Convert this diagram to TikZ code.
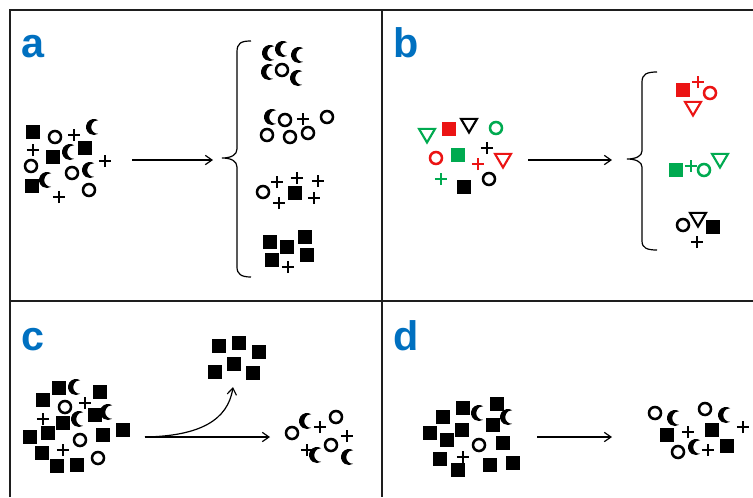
\documentclass[tikz,border=0pt]{standalone}
\usepackage{fontspec}
\setmainfont{Liberation Sans}
\usetikzlibrary{arrows.meta}
\definecolor{lblblue}{RGB}{0,112,192}
\definecolor{symred}{RGB}{235,20,20}
\definecolor{symgreen}{RGB}{0,170,80}
\definecolor{framec}{RGB}{30,30,30}
\tikzset{
  sq/.pic={\fill (-5pt,-5pt) rectangle (5pt,5pt);},
  ci/.pic={\draw[line width=1.9pt] (0,0) circle[radius=4.5pt];},
  pl/.pic={\draw[line width=2pt] (-4.6pt,0)--(4.6pt,0) (0,-4.6pt)--(0,4.6pt);},
  tri/.pic={\draw[line width=1.6pt,line join=miter] (-6pt,4.6pt)--(6pt,4.6pt)--(0,-5.6pt)--cycle;},
  cr/.pic={\fill[x=0.75pt,y=0.75pt] (58.2:8) arc[start angle=58.2,end angle=301.8,radius=8]
           arc[start angle=-88.1,end angle=-271.9,radius=6.8] -- cycle;},
  framel/.style={draw=framec,line width=1.1pt},
  conn/.style={draw=black,line width=0.9pt,-{Straight Barb[length=5pt,width=7pt,line width=0.9pt]}},
  bracel/.style={draw=black,line width=0.9pt},
  lbl/.style={font=\bfseries\fontsize{31}{31}\selectfont,text=lblblue,inner sep=0pt,anchor=base west}
}
\begin{document}
\begin{tikzpicture}[x=0.75pt,y=-0.75pt]
\useasboundingbox (0,0) rectangle (753,497);
% frame
\draw[framel] (10,497) -- (10,10) -- (753,10);
\draw[framel] (382,10) -- (382,497);
\draw[framel] (10,301) -- (753,301);
% labels
\node[lbl] (la) at (21,57) {a};
\node[lbl] (lb) at (393,57) {b};
\node[lbl] (lc) at (21,350) {c};
\node[lbl] (ld) at (393,350) {d};

% ---------- panel a input
\pic at (33,132) {sq}; \pic at (55,137) {ci}; \pic at (74,135) {pl}; \pic at (94,127) {cr};
\pic at (33,150) {pl}; \pic at (53,157) {sq}; \pic at (70,152) {cr}; \pic at (85,148) {sq};
\pic at (105,161) {pl}; \pic at (31,166) {ci}; \pic at (32,186) {sq}; \pic at (47,180) {cr};
\pic at (72,173) {ci}; \pic at (90,170) {cr}; \pic at (59,197) {pl}; \pic at (89,190) {ci};
\coordinate (a1) at (132,160); \coordinate (a2) at (213,160);
\draw[conn] (a1) -- (a2);
\draw[bracel] (251,41) .. controls (241,41) and (237,43) .. (237,52) -- (237,149)
  .. controls (237,155) and (231,158) .. (222,158) .. controls (231,158) and (237,161) .. (237,167)
  -- (237,267) .. controls (237,274) and (241,277) .. (251,277);
% a outputs
\pic at (270,53) {cr}; \pic at (283,49) {cr}; \pic at (299,55) {cr};
\pic at (269,72) {cr}; \pic at (282,70) {ci}; \pic at (298,78) {cr};
\pic at (272,117) {cr}; \pic at (285,120) {ci}; \pic at (303,119) {pl}; \pic at (327,117) {ci};
\pic at (267,135) {ci}; \pic at (290,137) {ci}; \pic at (308,133) {ci};
\pic at (263,192) {ci}; \pic at (277,182) {pl}; \pic at (297,178) {pl}; \pic at (318,181) {pl};
\pic at (295,193) {sq}; \pic at (279,203) {pl}; \pic at (314,198) {pl};
\pic at (270,242) {sq}; \pic at (287,247) {sq}; \pic at (305,237) {sq};
\pic at (272,260) {sq}; \pic at (307,255) {sq}; \pic at (288,267) {pl};

% ---------- panel b input
\pic[symgreen] at (427,135) {tri}; \pic[symred] at (449,129) {sq}; \pic at (469,125) {tri};
\pic[symgreen] at (496,128) {ci}; \pic[symred] at (436,158) {ci}; \pic[symgreen] at (458,155) {sq};
\pic at (487,148) {pl}; \pic[symred] at (478,164) {pl}; \pic[symred] at (503,160) {tri};
\pic[symgreen] at (441,179) {pl}; \pic at (464,187) {sq}; \pic at (489,179) {ci};
\coordinate (b1) at (528,160); \coordinate (b2) at (612,160);
\draw[conn] (b1) -- (b2);
\draw[bracel] (657,72) .. controls (647,72) and (642,74) .. (642,82) -- (642,151)
  .. controls (642,156) and (636,159) .. (627,159) .. controls (636,159) and (642,162) .. (642,167)
  -- (642,241) .. controls (642,248) and (647,250) .. (657,250);
% b outputs
\pic[symred] at (683,90) {sq}; \pic[symred] at (698,82) {pl}; \pic[symred] at (710,93) {ci}; \pic[symred] at (693,108) {tri};
\pic[symgreen] at (676,170) {sq}; \pic[symgreen] at (691,166) {pl}; \pic[symgreen] at (704,170) {ci}; \pic[symgreen] at (720,160) {tri};
\pic at (683,225) {ci}; \pic at (698,219) {tri}; \pic at (713,227) {sq}; \pic at (697,242) {pl};

% ---------- panel c input
\pic at (59,388) {sq}; \pic at (76,387) {cr}; \pic at (100,392) {sq}; \pic at (43,400) {sq};
\pic at (65,407) {ci}; \pic at (85,403) {pl}; \pic at (43,419) {pl}; \pic at (63,423) {sq};
\pic at (79,419) {cr}; \pic at (95,415) {sq}; \pic at (108,412) {cr}; \pic at (30,437) {sq};
\pic at (48,433) {sq}; \pic at (80,440) {ci}; \pic at (103,435) {sq}; \pic at (123,430) {sq};
\pic at (42,453) {sq}; \pic at (63,450) {pl}; \pic at (57,466) {sq}; \pic at (77,465) {sq};
\pic at (98,458) {ci};
\coordinate (c1) at (145,437); \coordinate (c2) at (270,437); \coordinate (c3) at (233,387);
\draw[conn] (c1) -- (c2);
\draw[conn] (c1) .. controls (200,436) and (228,420) .. (c3);
% c outputs
\pic at (219,346) {sq}; \pic at (239,343) {sq}; \pic at (259,352) {sq};
\pic at (215,372) {sq}; \pic at (234,364) {sq}; \pic at (253,373) {sq};
\pic at (292,433) {ci}; \pic at (307,421) {cr}; \pic at (320,427) {pl}; \pic at (336,417) {ci};
\pic at (307,450) {pl}; \pic at (317,455) {cr}; \pic at (331,445) {ci}; \pic at (347,436) {pl};
\pic at (349,457) {cr};

% ---------- panel d input
\pic at (463,408) {sq}; \pic at (479,413) {cr}; \pic at (497,404) {sq}; \pic at (508,417) {cr};
\pic at (443,417) {sq}; \pic at (430,433) {sq}; \pic at (462,430) {sq}; \pic at (493,425) {sq};
\pic at (447,440) {sq}; \pic at (479,445) {ci}; \pic at (463,457) {pl}; \pic at (503,443) {sq};
\pic at (440,459) {sq}; \pic at (458,470) {sq}; \pic at (490,465) {sq}; \pic at (513,463) {sq};
\coordinate (d1) at (537,437); \coordinate (d2) at (612,437);
\draw[conn] (d1) -- (d2);
% d outputs
\pic at (655,413) {ci}; \pic at (675,418) {cr}; \pic at (688,432) {pl}; \pic at (667,435) {sq};
\pic at (705,409) {ci}; \pic at (726,415) {cr}; \pic at (712,430) {sq}; \pic at (743,427) {pl};
\pic at (678,452) {ci}; \pic at (696,447) {cr}; \pic at (708,450) {pl}; \pic at (727,446) {sq};
\end{tikzpicture}
\end{document}
